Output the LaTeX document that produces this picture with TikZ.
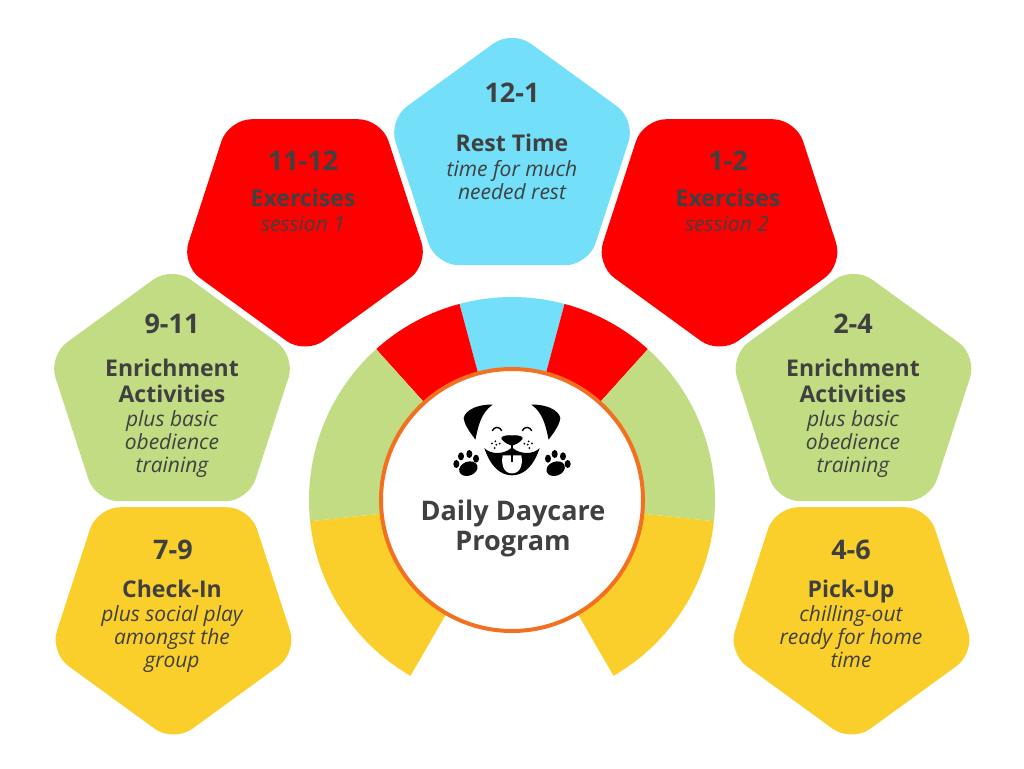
\documentclass[tikz,border=0pt]{standalone}
\usepackage{fontspec}
\setmainfont{Open Sans}
\usepackage{xcolor}
\usetikzlibrary{shapes.geometric}
\definecolor{dcSky}{HTML}{73DFF8}
\definecolor{dcRed}{HTML}{FF0000}
\definecolor{dcLeaf}{HTML}{C1DC82}
\definecolor{dcSun}{HTML}{FACF2B}
\definecolor{dcInk}{HTML}{404040}
\definecolor{dcRim}{HTML}{F37021}
\tikzset{
  petal/.style={regular polygon, regular polygon sides=5, minimum size=260pt, inner sep=0pt, outer sep=0pt, rounded corners=23pt},
  petaldown/.style={petal, shape border rotate=180},
  hourtext/.style={anchor=base, text=dcInk, inner sep=0pt, font=\fontsize{27}{30}\selectfont\bfseries},
  titletext/.style={anchor=base, text=dcInk, inner sep=0pt, align=center, font=\fontsize{23}{26}\selectfont\bfseries},
  notetext/.style={anchor=base, text=dcInk, inner sep=0pt, align=center, font=\fontsize{21}{23}\selectfont\itshape},
}
\begin{document}
\begin{tikzpicture}[x=1pt, y=-1pt]
  \useasboundingbox (0,0) rectangle (1024,768);
  \node[petal, fill=dcSky] (rest) at (512,160) {};
  \node[petaldown, fill=dcRed] (exone) at (305,224.4) {};
  \node[petaldown, fill=dcRed] (extwo) at (719.5,224.4) {};
  \node[petal, fill=dcLeaf] (enone) at (172,396) {};
  \node[petal, fill=dcLeaf] (entwo) at (853.5,396) {};
  \node[petaldown, fill=dcSun] (checkin) at (173.5,612.4) {};
  \node[petaldown, fill=dcSun] (pickup) at (851.5,612.4) {};

  \node[hourtext] (resth) at (512,102.7) {12-1};
  \node[titletext] (restt) at (512,151.7) {Rest Time};
  \node[notetext] (restn) at (512,199) {time for much\\needed rest};
  \node[hourtext] (exoneh) at (303,170.7) {11-12};
  \node[titletext] (exonet) at (303,206.7) {Exercises};
  \node[notetext] (exonen) at (303,231) {session 1};
  \node[hourtext] (extwoh) at (728,170.7) {1-2};
  \node[titletext] (extwot) at (728,206.7) {Exercises};
  \node[notetext] (extwon) at (727,231) {session 2};
  \node[hourtext] (enoneh) at (172,333) {9-11};
  \node[titletext] (enonet) at (172,402) {Enrichment\\Activities};
  \node[notetext] (enonen) at (172,472) {plus basic\\obedience\\training};
  \node[hourtext] (entwoh) at (853,333) {2-4};
  \node[titletext] (entwot) at (853,402) {Enrichment\\Activities};
  \node[notetext] (entwon) at (853,472) {plus basic\\obedience\\training};
  \node[hourtext] (checkinh) at (173,559) {7-9};
  \node[titletext] (checkint) at (172,597) {Check-In};
  \node[notetext] (checkinn) at (172,667) {plus social play\\amongst the\\group};
  \node[hourtext] (pickuph) at (851,559) {4-6};
  \node[titletext] (pickupt) at (851,597) {Pick-Up};
  \node[notetext] (pickupn) at (851,667) {chilling-out\\ready for home\\time};

  \begin{scope}[shift={(512,500)}, y=1pt]
    \foreach \from/\to/\col in {75/105/dcSky, 105/132/dcRed, 48/75/dcRed, 132/186/dcLeaf, -6/48/dcLeaf, 186/240/dcSun, -60/-6/dcSun}
      \fill[\col] (\from:128) arc[start angle=\from, end angle=\to, radius=128pt] -- (\to:203) arc[start angle=\to, end angle=\from, radius=203pt] -- cycle;
  \end{scope}

  \node[circle, draw=dcRim, fill=white, line width=4pt, minimum size=262pt, inner sep=0pt, outer sep=0pt] (hub) at (512,500) {};
  \node[anchor=base, text=dcInk, inner sep=0pt, align=center, font=\fontsize{27}{30}\selectfont\bfseries] (hubt) at (513,550.7) {Daily Daycare\\Program};

  \foreach \side in {1,-1} {
    \begin{scope}[shift={(512,398)}, x=\side*0.3333pt, y=-0.3333pt]
      \fill[black] (-58,20) .. controls (-100,18) and (-140,35) .. (-145,60) .. controls (-142,85) and (-120,110) .. (-110,125) .. controls (-102,90) and (-95,45) .. (-58,20) -- cycle;
      \draw[black, line width=1.4pt, line cap=round] (-59,98) .. controls (-53,85) and (-37,85) .. (-31,98);
      \fill[black] (0,112) .. controls (-25,110) and (-38,118) .. (-30,125) .. controls (-22,135) and (-10,140) .. (0,143) -- cycle;
      \fill[black] (-83,150) .. controls (-65,170) and (-25,170) .. (-2,150) -- (0,150) -- (0,232) .. controls (-35,232) and (-65,205) .. (-83,150) -- cycle;
      \fill[white] (0,172) -- (-28,172) .. controls (-34,205) and (-22,226) .. (0,226) -- cycle;
      \fill[black] (-2.5,140) rectangle (0,192);
      \foreach \dotx/\doty in {-50/130, -60/136, -47/140, -37/137, -52/150} \fill[black] (\dotx,\doty) circle[radius=1pt];
      \fill[black, rotate around={20:(-131,212)}] (-131,212) ellipse[x radius=9.5pt, y radius=7pt];
      \foreach \toex/\toey in {-167/198, -153/175, -128/168, -108/182} \fill[black] (\toex,\toey) ellipse[x radius=3pt, y radius=4pt];
    \end{scope}
  }
\end{tikzpicture}
\end{document}
